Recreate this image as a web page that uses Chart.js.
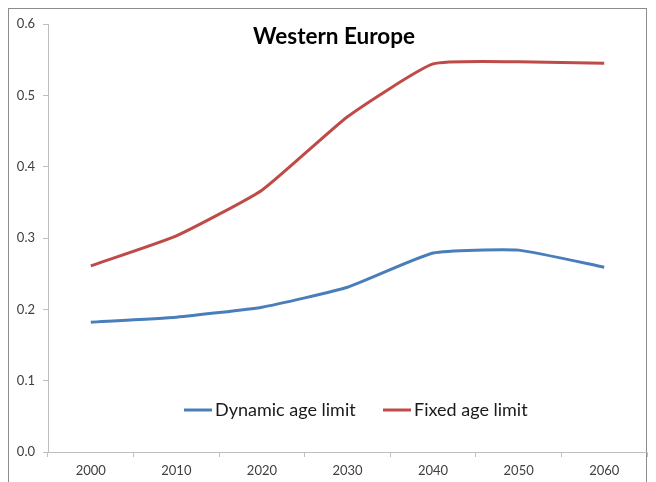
<!DOCTYPE html>
<html>
<head>
<meta charset="utf-8">
<script src="https://cdn.jsdelivr.net/npm/chart.js@4/dist/chart.umd.min.js"></script>
<style>
  html, body { margin: 0; padding: 0; background: #fff; }
  #wrap { position: relative; width: 656px; height: 482px; }
  #frame { position: absolute; left: 8px; top: 8px; width: 639px; height: 480px; border: 1px solid #8c8c8c; box-sizing: border-box; }
  canvas { position: absolute; left: 0; top: 0; }
</style>
</head>
<body>
<div id="wrap">
  <div id="frame"></div>
  <canvas id="chart" width="656" height="482"></canvas>
</div>
<script>
const years = ['2000', '2010', '2020', '2030', '2040', '2050', '2060'];
const dynamicAge = [0.182, 0.189, 0.203, 0.231, 0.279, 0.283, 0.259];
const fixedAge = [0.261, 0.303, 0.367, 0.470, 0.544, 0.547, 0.545];
const chartTitle = 'Western Europe';

const FONT = 'Lato, "Open Sans", sans-serif';

// title and legend sit inside the plot area, like the Excel original
const insidePlugin = {
    id: 'inside',
    afterDraw(chart) {
        const ctx = chart.ctx;
        const area = chart.chartArea;
        ctx.save();
        ctx.fillStyle = '#000';
        ctx.font = 'bold 22.5px ' + FONT;
        ctx.textAlign = 'center';
        ctx.textBaseline = 'middle';
        ctx.fillText(chartTitle, 334, area.top + 13);

        ctx.font = '18px ' + FONT;
        ctx.textAlign = 'left';
        const y = area.bottom - 42;
        let x = 184;
        chart.data.datasets.forEach(ds => {
            ctx.strokeStyle = ds.borderColor;
            ctx.lineWidth = 3;
            ctx.beginPath();
            ctx.moveTo(x, y);
            ctx.lineTo(x + 28, y);
            ctx.stroke();
            ctx.fillStyle = '#1a1a1a';
            ctx.fillText(ds.label, x + 31, y);
            x = 383;
        });
        ctx.restore();
    }
};

const canvas = document.getElementById('chart');
new Chart(canvas.getContext('2d'), {
    type: 'line',
    data: {
        labels: years,
        datasets: [
            { label: 'Dynamic age limit', data: dynamicAge, borderColor: '#4a7ebb', borderWidth: 3, pointRadius: 0, tension: 0.15, fill: false },
            { label: 'Fixed age limit', data: fixedAge, borderColor: '#be4b48', borderWidth: 3, pointRadius: 0, tension: 0.15, fill: false }
        ]
    },
    options: {
        responsive: false,
        animation: false,
        layout: { padding: { left: 0, right: 9, top: 24, bottom: 0 } },
        plugins: { legend: { display: false }, title: { display: false }, tooltip: { enabled: false } },
        scales: {
            x: {
                offset: true,
                grid: { offset: true, drawOnChartArea: false, drawTicks: true, tickLength: 5, color: '#bfbfbf' },
                border: { display: true, color: '#bfbfbf', width: 1 },
                ticks: { color: '#404040', font: { family: FONT, size: 13 }, padding: 6 },
                afterFit: s => { s.height = 30; }
            },
            y: {
                min: 0, max: 0.6,
                grid: { drawOnChartArea: false, drawTicks: true, tickLength: 5, color: '#bfbfbf' },
                border: { display: true, color: '#bfbfbf', width: 1 },
                ticks: { stepSize: 0.1, color: '#404040', font: { family: FONT, size: 13 }, padding: 8,
                         callback: v => v.toFixed(1) },
                afterFit: s => { s.width = 48; }
            }
        }
    },
    plugins: [insidePlugin]
});
</script>
</body>
</html>
